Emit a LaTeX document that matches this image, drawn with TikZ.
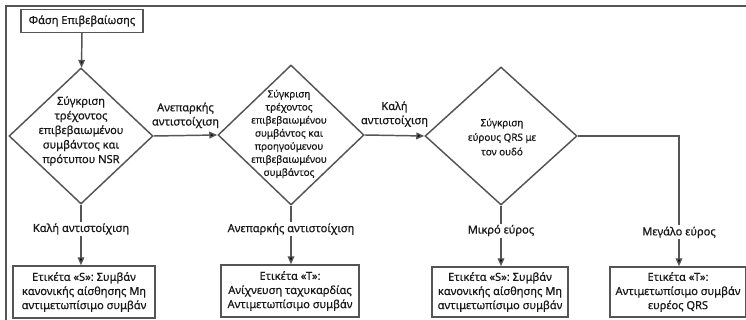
\documentclass[tikz,border=0pt]{standalone}
\usepackage{fontspec}
\setmainfont{Noto Sans}[FakeBold=0.6]
\usetikzlibrary{shapes.geometric,arrows.meta}
\definecolor{ln}{HTML}{555555}
\begin{document}
\begin{tikzpicture}[x=0.75pt,y=-0.75pt,
  every node/.style={text=black!90},
  frame/.style={draw=ln,line width=1.3pt},
  box/.style={draw=ln,line width=1.1pt,inner sep=0pt,align=center,font=\fontsize{8.3}{10.6}\selectfont},
  dia/.style={draw=ln,line width=1.1pt,diamond,inner sep=0pt},
  dtext/.style={align=center,inner sep=0pt,font=\fontsize{8.3}{10.9}\selectfont},
  lab/.style={fill=white,inner sep=1pt,align=center,font=\fontsize{8.3}{10.6}\selectfont},
  arr/.style={draw=ln,line width=1.1pt,-{Triangle[length=6pt,width=5pt,fill=black]}},
  con/.style={draw=ln,line width=1.1pt}]
\useasboundingbox (0,0) rectangle (746,320);
\draw[frame] (6,320) -- (6,6) -- (746,6);

\node[box,minimum width=91.5pt,minimum height=17.25pt,font=\fontsize{8.3}{9}\selectfont] (t) at (82,21) {Φάση Επιβεβαίωσης};

\node[dia,minimum width=108pt,minimum height=102pt] (d1) at (81,136) {};
\node[dtext] (d1t) at (81,131) {Σύγκριση\\τρέχοντος\\επιβεβαιωμένου\\συμβάντος και\\πρότυπου NSR};

\node[dia,minimum width=109.5pt,minimum height=105pt] (d2) at (291,135) {};
\node[dtext,font=\fontsize{7.4}{9.8}\selectfont] (d2t) at (289,134) {Σύγκριση\\τρέχοντος\\επιβεβαιωμένου\\συμβάντος και\\προηγούμενου\\επιβεβαιωμένου\\συμβάντος};

\node[dia,minimum width=114pt,minimum height=103.5pt] (d3) at (501,136) {};
\node[dtext,font=\fontsize{7.4}{10.9}\selectfont] (d3t) at (502,137) {Σύγκριση\\εύρους QRS με\\τον ουδό};

\node[box,minimum width=106.5pt,minimum height=39pt] (b1) at (84,292) {Ετικέτα «S»: Συμβάν\\κανονικής αίσθησης Μη\\αντιμετωπίσιμο συμβάν};
\node[box,minimum width=103.5pt,minimum height=39pt] (b2) at (290,291) {Ετικέτα «T»:\\Ανίχνευση ταχυκαρδίας\\Αντιμετωπίσιμο συμβάν};
\node[box,minimum width=102pt,minimum height=37.5pt] (b3) at (500,292) {Ετικέτα «S»: Συμβάν\\κανονικής αίσθησης Μη\\αντιμετωπίσιμο συμβάν};
\node[box,minimum width=102pt,minimum height=37.5pt] (b4) at (678,292) {Ετικέτα «T»:\\Αντιμετωπίσιμο συμβάν\\ευρέος QRS};

\draw[arr] (t) -- (d1);
\draw[arr] (d1.east) -- node[lab,above=4pt] (l1) {Ανεπαρκής\\αντιστοίχιση} (d2.west);
\draw[arr] (d2.east) -- node[lab,above=5pt] (l2) {Καλή\\αντιστοίχιση} (d3.west);

\draw[arr] (d1.south) -- node[lab,pos=0.4] (l3) {Καλή αντιστοίχιση} (b1.north -| d1.south);
\draw[arr] (d2.south) -- node[lab,pos=0.4] (l4) {Ανεπαρκής αντιστοίχιση} (b2.north -| d2.south);
\draw[arr] (d3.south) -- node[lab,pos=0.41] (l5) {Μικρό εύρος} (b3.north -| d3.south);
\coordinate (c1) at (679,136);
\draw[arr] (d3.east) -- (c1) -- node[lab,pos=0.74] (l6) {Μεγάλο εύρος} (b4.north -| c1);
\end{tikzpicture}
\end{document}
